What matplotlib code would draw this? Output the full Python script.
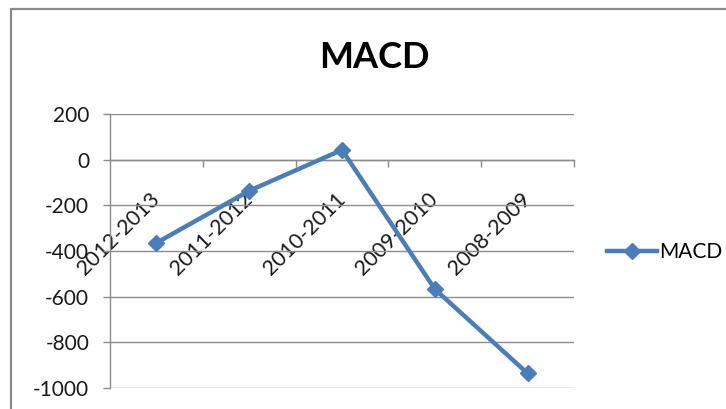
import matplotlib
matplotlib.use("Agg")
import matplotlib.pyplot as plt
from matplotlib.patches import Rectangle
from matplotlib.transforms import ScaledTranslation

# Data
periods = ["2012-2013", "2011-2012", "2010-2011", "2009-2010", "2008-2009"]
macd = [-365, -137, 42, -567, -936]
y_ticks = [200, 0, -200, -400, -600, -800, -1000]
series_name = "MACD"

LINE_BLUE = "#4A7EBB"
GRID_GRAY = "#8C8C8C"

plt.rcParams["font.family"] = ["Lato", "DejaVu Sans"]

W, H = 726, 409
fig = plt.figure(figsize=(W / 100, H / 100), dpi=100)
fig.patch.set_facecolor("white")

# chart-area frame (left and top edges visible)
fig.patches.append(Rectangle((11 / W, -0.1), 1.2, 1.1 - 9 / H,
                             transform=fig.transFigure, fill=False,
                             edgecolor="#8A8A8A", linewidth=1.6))

ax = fig.add_axes([110 / W, 1 - 388 / H, (574 - 110) / W, (388 - 113.8) / H])
ax.set_facecolor("none")

x = list(range(len(periods)))
ax.plot(x, macd, color=LINE_BLUE, linewidth=3.2, marker="D", markersize=8.5,
        markerfacecolor=LINE_BLUE, markeredgecolor=LINE_BLUE,
        label=series_name, zorder=3)

ax.set_xlim(-0.5, len(periods) - 0.5)
ax.set_ylim(-1000, 200)
ax.set_yticks(y_ticks)
ax.set_yticklabels([str(v) for v in y_ticks])
ax.yaxis.grid(True, color=GRID_GRAY, linewidth=1.0)
ax.set_axisbelow(True)

for side in ("top", "right"):
    ax.spines[side].set_visible(False)
ax.spines["left"].set_color(GRID_GRAY)
ax.spines["left"].set_linewidth(1.0)
ax.spines["bottom"].set_position(("data", 0))
ax.spines["bottom"].set_color(GRID_GRAY)
ax.spines["bottom"].set_linewidth(1.0)

ax.tick_params(axis="y", length=5, width=1.0, color=GRID_GRAY, pad=10,
               labelsize=15, labelcolor="#1a1a1a")

# category labels at the points, tick marks between categories
ax.set_xticks(x)
ax.set_xticklabels(periods, rotation=45, ha="right", va="center",
                   rotation_mode="anchor", fontsize=15.5, color="#1a1a1a")
shift = ScaledTranslation(3 / 100, 0, fig.dpi_scale_trans)
for lbl in ax.get_xticklabels():
    lbl.set_transform(lbl.get_transform() + shift)
ax.set_xticks([i + 0.5 for i in x], minor=True)
ax.tick_params(axis="x", which="major", length=0, pad=26)
ax.tick_params(axis="x", which="minor", length=5, width=1.0, color=GRID_GRAY)

fig.text(374 / W, 1 - 57 / H, "MACD", ha="center", va="center",
         fontsize=26, fontweight="bold", color="black")

fig.legend(handles=ax.get_lines(), labels=[series_name], loc="center left",
           bbox_to_anchor=(607 / W, 1 - 252 / H), frameon=False,
           fontsize=15, handlelength=2.4, handletextpad=0.1,
           borderpad=0, borderaxespad=0)

fig.savefig("out.png", dpi=100, facecolor="white")
